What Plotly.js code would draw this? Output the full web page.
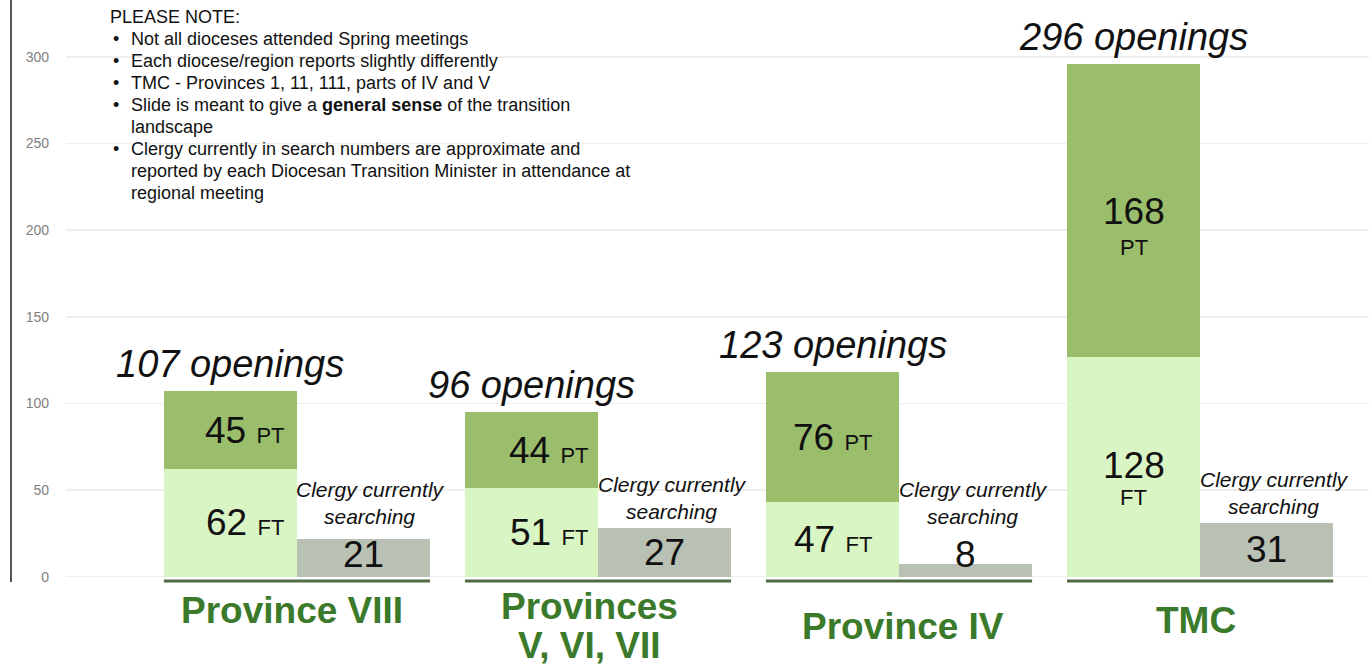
<!DOCTYPE html>
<html>
<head>
<meta charset="utf-8">
<script src="https://cdn.plot.ly/plotly-3.0.1.min.js"></script>
<style>html,body{margin:0;padding:0;background:#fff;}#chart{width:1369px;height:667px;}</style>
</head>
<body>
<div id="chart"></div>
<script>
// ---- data ----
const categories = ["Province VIII", "Provinces<br>V, VI, VII", "Province IV", "TMC"];
const ftBars = [62, 51, 43, 127];        // full-time bar heights as drawn
const ptBars = [45, 44, 75, 169];        // part-time bar heights as drawn
const searchingBars = [22, 28, 7, 31];   // clergy currently searching, bar heights as drawn
const ftLabels = [62, 51, 47, 128];
const ptLabels = [45, 44, 76, 168];
const searchingLabels = [21, 27, 8, 31];
const openingsLabels = [107, 96, 123, 296];
const yTicks = [0, 50, 100, 150, 200, 250, 300];
const noteTitle = "PLEASE NOTE:";
const noteBullets = [
  ["Not all dioceses attended Spring meetings"],
  ["Each diocese/region reports slightly differently"],
  ["TMC - Provinces 1, 11, 111, parts of IV and V"],
  ["Slide is meant to give a <b>general sense</b> of the transition", "landscape"],
  ["Clergy currently in search numbers are approximate and", "reported by each Diocesan Transition Minister in attendance at", "regional meeting"]
];

// ---- style ----
const FONT = "Liberation Sans, Arial, Helvetica, sans-serif";
const C_PT = "#9bbe6c", C_FT = "#d9f5c4", C_GRAY = "#b9c1b4", C_CAT = "#3a7a2a", C_BASE = "#506a46";
const BW = 0.442, HALF = BW / 2;
const idx = categories.map((_, i) => i);
const xStack = idx.map(i => i - HALF);
const xGray = idx.map(i => i + HALF);
const PLOT_BOTTOM = 587, PLOT_H = 582;
const py = p => (PLOT_BOTTOM - p) / PLOT_H;   // pixel row -> paper y

const traces = [
  {type: "bar", x: xStack, y: ftBars, width: BW, marker: {color: C_FT}, hoverinfo: "skip", name: "FT"},
  {type: "bar", x: xStack, y: ptBars, width: BW, marker: {color: C_PT}, hoverinfo: "skip", name: "PT"},
  {type: "bar", x: xGray, y: searchingBars, width: BW, marker: {color: C_GRAY}, hoverinfo: "skip", name: "Searching"}
];

const ann = [];
const labelShift = [15, 18, 0, 0];
const catY = [610, 626, 626, 620];
const catShift = [-5, -8, 4, -4];
const CAT_LINE = 39;
idx.forEach(i => {
  const total = ftBars[i] + ptBars[i];
  // openings
  ann.push({x: xStack[i], y: total, xref: "x", yref: "y", yanchor: "bottom", yshift: 4, showarrow: false,
    text: "<i>" + openingsLabels[i] + " openings</i>", font: {family: FONT, size: 38, color: "#111"}});
  if (i < 3) {
    ann.push({x: xStack[i], y: ftBars[i] + ptBars[i] / 2, xref: "x", yref: "y", xshift: labelShift[i], showarrow: false,
      text: ptLabels[i] + " <span style='font-size:22px'>PT</span>", font: {family: FONT, size: 37, color: "#111"}});
    ann.push({x: xStack[i], y: ftBars[i] / 2, xref: "x", yref: "y", xshift: labelShift[i], showarrow: false,
      text: ftLabels[i] + " <span style='font-size:22px'>FT</span>", font: {family: FONT, size: 37, color: "#111"}});
  } else {
    ann.push({x: xStack[i], y: ftBars[i] + ptBars[i] / 2, xref: "x", yref: "y", yshift: -1, showarrow: false,
      text: String(ptLabels[i]), font: {family: FONT, size: 37, color: "#111"}});
    ann.push({x: xStack[i], y: ftBars[i] + ptBars[i] / 2, xref: "x", yref: "y", yshift: -37, showarrow: false,
      text: "PT", font: {family: FONT, size: 22, color: "#111"}});
    ann.push({x: xStack[i], y: ftBars[i] / 2, xref: "x", yref: "y", yshift: 1, showarrow: false,
      text: String(ftLabels[i]), font: {family: FONT, size: 37, color: "#111"}});
    ann.push({x: xStack[i], y: ftBars[i] / 2, xref: "x", yref: "y", yshift: -31, showarrow: false,
      text: "FT", font: {family: FONT, size: 22, color: "#111"}});
  }
  // searching
  ann.push({x: xGray[i], y: Math.max(searchingBars[i] / 2, 12.5), xref: "x", yref: "y", showarrow: false,
    text: String(searchingLabels[i]), font: {family: FONT, size: 37, color: "#111"}});
  ann.push({x: xGray[i] + 0.025, y: Math.max(searchingBars[i], 25), xref: "x", yref: "y", yanchor: "bottom", yshift: 3, showarrow: false,
    text: "<i>Clergy currently<br>searching</i>", font: {family: FONT, size: 21, color: "#111"}});
  // category label (one annotation per line for tighter line spacing)
  const lines = categories[i].split("<br>");
  lines.forEach((ln, k) => {
    const yPix = catY[i] - (lines.length - 1) * CAT_LINE / 2 + k * CAT_LINE;
    ann.push({x: i, y: py(yPix), xref: "x", yref: "paper", yanchor: "middle", xshift: catShift[i], showarrow: false,
      text: "<b>" + ln + "</b>", font: {family: FONT, size: 37, color: C_CAT}});
  });
});

// note block
const noteX = 108, bulletX = 111, textX = 129;
const toPx = p => (p - 66) / 1303;
const NOTE_SIZE = 18;
let row = 17;
ann.push({x: toPx(noteX), y: py(row), xref: "paper", yref: "paper", xanchor: "left", yanchor: "middle", showarrow: false,
  text: noteTitle, font: {family: FONT, size: NOTE_SIZE, color: "#111"}});
noteBullets.forEach(lines => {
  lines.forEach((ln, k) => {
    row += 22;
    if (k === 0) ann.push({x: toPx(bulletX), y: py(row), xref: "paper", yref: "paper", xanchor: "left", yanchor: "middle", showarrow: false,
      text: "•", font: {family: FONT, size: NOTE_SIZE, color: "#111"}});
    ann.push({x: toPx(textX), y: py(row), xref: "paper", yref: "paper", xanchor: "left", yanchor: "middle", showarrow: false,
      text: ln, font: {family: FONT, size: NOTE_SIZE, color: "#111"}});
  });
});

const shapes = idx.map(i => ({type: "line", xref: "x", yref: "paper", x0: xStack[i] - HALF, x1: xGray[i] + HALF,
  y0: py(581), y1: py(581), line: {color: C_BASE, width: 3}}));
shapes.push({type: "line", xref: "paper", yref: "paper", x0: toPx(11), x1: toPx(11), y0: py(0), y1: py(582),
  line: {color: "#555", width: 2}});

const layout = {
  width: 1369, height: 667,
  margin: {l: 66, r: 0, t: 5, b: 80},
  paper_bgcolor: "#fff", plot_bgcolor: "#fff",
  barmode: "stack", bargap: 0,
  showlegend: false,
  xaxis: {range: [-0.767, 3.561], showgrid: false, zeroline: false, showticklabels: false, ticks: "", fixedrange: true},
  yaxis: {range: [-6, 330], tickvals: yTicks, ticktext: yTicks.map(String), showgrid: true, gridcolor: "#eeeeee", gridwidth: 1.5,
    zeroline: false, showline: false, ticks: "", ticklabelstandoff: 16,
    tickfont: {family: FONT, size: 14, color: "#808080"}, fixedrange: true},
  annotations: ann,
  shapes: shapes
};

Plotly.newPlot("chart", traces, layout, {displayModeBar: false, staticPlot: true});
</script>
</body>
</html>
